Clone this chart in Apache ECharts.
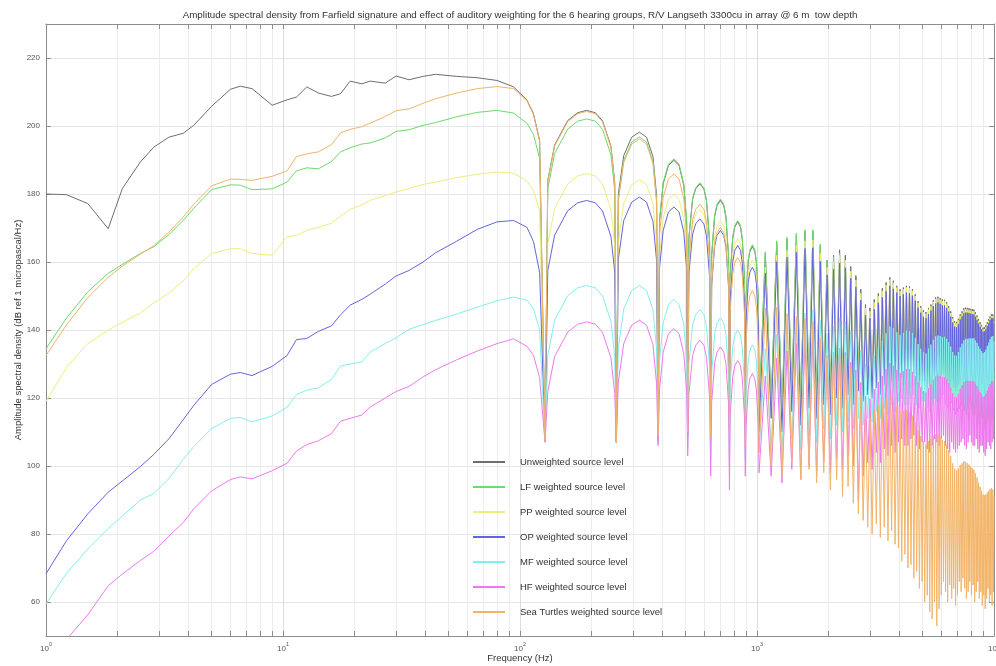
<!DOCTYPE html>
<html><head><meta charset="utf-8">
<script src="https://cdn.jsdelivr.net/npm/echarts@6/dist/echarts.min.js"></script>
<style>html,body{margin:0;padding:0;background:#fff}#c{width:996px;height:666px}</style>
</head><body><div id="c"></div>
<script>
const titleText = 'Amplitude spectral density from Farfield signature and effect of auditory weighting for the 6 hearing groups, R/V Langseth 3300cu in array @ 6 m  tow depth';
const seriesNames = ['Unweighted source level','LF weighted source level','PP weighted source level','OP weighted source level','MF weighted source level','HF weighted source level','Sea Turtles weighted source level'];
const seriesColors = ['#6e6e6e','#6fd86f','#eeee7c','#6464e0','#84eeee','#ee78ee','#f2b468'];
const xTickValues = [1,2,3,4,5,6,7,8,9,10,20,30,40,50,60,70,80,90,100,200,300,400,500,600,700,800,900,1000,2000,3000,4000,5000,6000,7000,8000,9000,10000];
const xLabelValues = [1,10,100,1000,10000];
const yTickValues = [60,80,100,120,140,160,180,200,220];

// frequencies (Hz) up to 3825 Hz
const freqMain = [1,1.22,1.5,1.83,2.1,2.5,2.85,3.3,3.8,4.2,
5,6,6.6,7.4,9,10.4,11.4,12.6,14.1,16,
17.5,19.2,21.5,23.3,27,30,34,39,44,54,
66,80,94,107,114,121,127.5,
131,140,159,175,191,208,223,242,251,255,
260,274,296,319,342,364,377,382.5,
388,402,423,446,469,491,505,510,
516,535,551,574,597,612,631,637.5,
644,663,678,701,724,740,759,765,
771,790,806,829,852,867,886,892.5,
899,918,933,956,979,995,1014,1020,
1084,1147.5,1211,1275,1339,1402.5,1466,1530,1594,1657.5,1721,1785,1849,1912.5,1976,2040,2104,2167.5,2231,2295,2359,2422.5,
2486,2550,2614,2677.5,2741,2805,2869,2932.5,2996,3060,3124,3187.5,3251,3315,3379,3442.5,3506,3570,3634,3697.5,3761,3825];
// high-frequency lobe tops and ghost notches above 3825 Hz
const freqHfPeaks = [3888.75,4016.25,4143.75,4271.25,4398.75,4526.25,4653.75,4781.25,4908.75,5036.25,5163.75,5291.25,5418.75,5546.25,5673.75,5801.25,5928.75,6056.25,6183.75,6311.25,6438.75,6566.25,6693.75,6821.25,
6948.75,7076.25,7203.75,7331.25,7458.75,7586.25,7713.75,7841.25,7968.75,8096.25,8223.75,8351.25,8478.75,8606.25,8733.75,8861.25,8988.75,9116.25,9243.75,9371.25,9498.75,9626.25,9753.75,9881.25];
const freqHfNotches = [3952.5,4080,4207.5,4335,4462.5,4590,4717.5,4845,4972.5,5100,5227.5,5355,5482.5,5610,5737.5,5865,5992.5,6120,6247.5,6375,6502.5,6630,6757.5,6885,
7012.5,7140,7267.5,7395,7522.5,7650,7777.5,7905,8032.5,8160,8287.5,8415,8542.5,8670,8797.5,8925,9052.5,9180,9307.5,9435,9562.5,9690,9817.5,9945];
const freqEnd = 10000;

const unweighted = [180,179.8,177.2,169.8,181.6,189.4,193.8,196.7,197.9,200.2,
205.8,210.8,211.7,211,206.1,207.7,208.5,211.5,209.7,208.7,
209.5,213.2,212.4,213.2,212.6,214.7,213.6,214.6,215.2,214.6,
214.2,213.4,211.5,207.6,203.6,195.8,108,
184,194.4,201.6,203.9,204.6,203.9,201.5,194,183.5,107,
180,191.3,196.7,198.2,196.7,191,179.5,110,
172,183,188.4,189.9,188.4,182.5,171.5,112,
167,178.5,181.5,183,181.5,178,166,114,
162,173.5,176.6,178.1,176.6,173,161,116,
156,167,170.3,171.8,170.3,166.5,155,117,
149,160,163.1,164.6,163.1,159.5,148,115,
162.5,118,165.7,115,166.8,121,168,117,169,122,169,119,164.8,123,160.5,120,162,125,163.6,122,162,126,
158.7,123,156,127,152,124,147.5,126,146.5,125,149,128,150.8,126,152.3,129,154,127,155.5,130,154.5,128];
const unweightedHfPeaks = [153,152,152.5,153,152.8,152,150.5,148.5,147,145.8,145.3,146.5,147.5,148.8,149.6,149.8,149.4,149,148.9,148.2,147,145.5,143.8,142.6,
142.4,143.3,144.6,145.5,146.4,146.6,146.5,146.4,146.2,146.1,146,145.2,144.3,143.2,142.3,141.5,140.7,140.8,141.4,142.3,143.2,144,144.6,144.6];
const unweightedHfNotches = [129,130,128,128,130,131,128,127,129,129,127,126,128,130,129,128,130,131,128,127,126,129,127,126,
127,128,129,130,128,127,129,131,129,128,128,130,127,126,128,128,126,125,127,129,128,127,129,130];

const lfWeighted = [134.5,143.5,151.2,156.7,159.3,162.5,164.5,168.1,172.3,175.8,
181.3,182.7,182.6,181.3,181.5,183.5,186.8,187.7,187.4,189.5,
192.4,193.6,194.7,195,196.5,198.4,198.9,200.2,201,202.7,
204,204.6,203.8,200.8,197.5,190.5,108,
181.5,191.9,199.1,201.4,202.1,201.4,199,191.5,181,107,
178.6,189.9,195.3,196.8,195.3,189.6,178.1,110,
172.4,183.4,188.8,190.3,188.8,182.9,171.9,112,
167.3,178.8,181.8,183.3,181.8,178.3,166.3,114,
162.4,173.9,177,178.5,177,173.4,161.4,116,
156.4,167.4,170.7,172.2,170.7,166.9,155.4,117,
149.5,160.5,163.6,165.1,163.6,160,148.5,115,
163,118,166.2,115,167.3,121,168.5,117,169.5,122,169.5,119,165.3,123,160.5,119.5,161.5,124,162.6,120.5,160.5,124,
156.7,120.5,153.5,124,149,120.5,144,122,142.5,120.8,144.7,123.4,146.2,121,147.3,123.7,148.7,121.4,149.9,124,148.5,121.5];
const lfHfPeaks = [146.8,145.6,145.9,146.2,145.8,144.8,143.1,140.9,139.2,137.8,137.1,138.1,138.9,140,140.6,140.6,140,139.4,139.1,138.2,136.8,135.1,133.2,131.8,
131.4,132.1,133.2,133.9,134.6,134.6,134.3,134,133.6,133.3,133,132,130.9,129.6,128.5,127.5,126.5,126.4,126.8,127.5,128.2,128.8,129.2,129];
const lfHfNotches = [122.8,123.6,121.4,121.2,123,123.8,120.6,119.4,121.2,121,118.8,117.6,119.4,121.2,120,118.8,120.6,121.4,118.2,117,115.8,118.6,116.4,115.2,
116,116.8,117.6,118.4,116.2,115,116.8,118.6,116.4,115.2,115,116.8,113.6,112.4,114.2,114,111.8,110.6,112.4,114.2,113,111.8,113.6,114.4];

const ppWeighted = [119,129,136,140,142.3,145,148,150.8,154.5,158,
162.5,163.9,163.9,162.5,162,167.5,167.8,169.3,170.2,171.4,
173.5,175.5,176.8,178.1,179.5,180.6,181.6,182.8,183.5,184.8,
185.8,186.5,186.1,183.8,181,175,108,
165.4,175.8,183,185.3,186,185.3,182.9,175.4,164.9,107,
166,177.3,182.7,184.2,182.7,177,165.5,109,
162,173,178.4,179.9,178.4,172.5,161.5,110,
159.5,171,174,175.5,174,170.5,158.5,112,
156,167.5,170.6,172.1,170.6,167,155,113,
151,162,165.3,166.8,165.3,161.5,150,113,
145,156,159.1,160.6,159.1,155.5,144,112,
158.5,114.5,162,112,163.4,118,164.9,114.5,166.2,119.5,166.5,117,162.5,121,158.4,118,160.1,123,161.9,120.5,160.5,124.5,
157.3,121.7,154.7,125.8,150.8,122.9,146.4,125,145.5,124.1,148.1,127.2,149.9,125.2,151.5,128.3,153.2,126.3,154.8,129.3,153.9,127.4];
const ppHfPeaks = [152.5,151.5,152,152.5,152.3,151.5,150,148,146.5,145.3,144.8,146,147,148.3,149.1,149.3,148.9,148.5,148.4,147.7,146.5,145,143.3,142.1,
141.9,142.8,144.1,145,145.9,146.1,146,145.9,145.7,145.6,145.5,144.7,143.8,142.7,141.8,141,140.2,140.3,140.9,141.8,142.7,143.5,144.1,144.1];
const ppHfNotches = [128.5,129.5,127.5,127.5,129.5,130.5,127.5,126.5,128.5,128.5,126.5,125.5,127.5,129.5,128.5,127.5,129.5,130.5,127.5,126.5,125.5,128.5,126.5,125.5,
126.5,127.5,128.5,129.5,127.5,126.5,128.5,130.5,128.5,127.5,127.5,129.5,126.5,125.5,127.5,127.5,125.5,124.5,126.5,128.5,127.5,126.5,128.5,129.5];

const opWeighted = [68.3,78,85.9,92.3,95.6,99.8,103.4,108,113.7,117.8,
124,127,127.5,126.6,129.3,132.5,137.2,137.5,139.6,141.2,
144.5,147.3,149,150.5,153.5,155.9,157.5,160,162.7,166.1,
169.6,171.8,172.2,170.2,166,157,107.5,
157.5,167.9,175.1,177.4,178.1,177.4,175,167.5,157,107,
160.9,172.2,177.6,179.1,177.6,171.9,160.4,108,
158.3,169.3,174.7,176.2,174.7,168.8,157.8,109,
156.7,168.2,171.2,172.7,171.2,167.7,155.7,110,
153.2,164.7,167.8,169.3,167.8,164.2,152.2,111,
149.1,160.1,163.4,164.9,163.4,159.6,148.1,111,
142.9,153.9,157,158.5,157,153.4,141.9,110,
156.7,114,160.1,110,161.4,116,162.8,112,164,117,164.2,114,160.2,118,156.2,115,157.9,120,159.7,117,158.3,121,
155.2,118,152.7,122,148.8,119,144.4,121,143.5,120,146.1,123,148,121,149.6,124,151.4,122,153,125,152.1,123];
const opHfPeaks = [151,150,150.5,151,150.8,150.1,148.6,146.6,145.1,143.9,143.5,144.7,145.7,147,147.8,148.1,147.7,147.3,147.2,146.5,145.4,143.9,142.2,141,
140.8,141.8,143.1,144,144.9,145.1,145.1,145,144.8,144.7,144.6,143.9,143,141.9,141,140.2,139.5,139.6,140.2,141.1,142,142.9,143.5,143.5];
const opHfNotches = [125,126,124,124,126,127,124,123,125,125,123,122,124,126,125,124,126,127,124,123,122,125,123,122,
123,124,125,126,124,123,125,127,125,124,124,126,123,122,124,124,122,121,123,125,124,123,125,126];

const mfWeighted = [59.5,68.4,75.6,81.6,85.3,90,91.9,96.3,102,105.7,
111,114,114.3,113,114.7,117.3,121,122.3,123,125.5,
129.4,130,130.6,133.5,136,137.7,140.2,141.6,142.8,144.7,
146.7,148.6,149.7,148.8,146.3,140,107,
132.5,142.9,150.1,152.4,153.1,152.4,150,142.5,132,107,
134.9,146.2,151.6,153.1,151.6,145.9,134.4,107,
131.1,142.1,147.5,149,147.5,141.6,130.6,105,
130,141.5,144.5,146,144.5,141,129,102,
127.5,139,142.1,143.6,142.1,138.5,126.5,100,
124.2,135.2,138.5,140,138.5,134.7,123.2,102,
120,131,134.1,135.6,134.1,130.5,119,104,
134.5,106,138.7,104,140.8,108,143,105,145,109,146,107,142.8,111,139,108,141,112,143.6,110,142.5,113,
139.7,111,137.5,114,134,112,130,114,129.5,113,132.5,116,134.8,114,136.8,117,139,115,141,118,140.5,116];
const mfHfPeaks = [139.3,138.5,139.1,139.8,139.7,139.1,137.7,135.9,134.5,133.5,133.1,134.5,135.7,137.1,138.1,138.4,138.2,137.9,138,137.4,136.4,135.1,133.5,132.5,
132.4,133.5,134.9,136,137,137.4,137.4,137.5,137.5,137.5,137.6,136.9,136.2,135.2,134.5,133.8,133.2,133.5,134.2,135.3,136.3,137.3,138,138.2];
const mfHfNotches = [119,120,118,118,120,121,118,117,119,119,117,116,118,120,119,118,120,121,118,117,116,119,117,116,
117,118,119,120,118,117,119,121,119,118,118,120,117,116,118,118,116,115,117,119,118,117,119,120];

const hfWeighted = [44,49,56.2,64.8,68.2,72.2,74.9,79.4,83.4,87.4,
92.7,96,96.8,96.2,98.6,100.8,104.4,106.3,107.4,109.5,
113.2,114,115,117.3,120,121.9,123.4,126.2,128.3,131.2,
133.8,136,137.4,135.2,132.5,126,107,
121.8,132.2,139.4,141.7,142.4,141.7,139.3,131.8,121.3,107,
124.7,136,141.4,142.9,141.4,135.7,124.2,106,
122.5,133.5,138.9,140.4,138.9,133,122,103,
121,132.5,135.5,137,135.5,132,120,97,
118.9,130.4,133.5,135,133.5,129.9,117.9,93,
115.2,126.2,129.5,131,129.5,125.7,114.2,97,
111.6,122.6,125.7,127.2,125.7,122.1,110.6,98,
126.5,97,131.7,95,133.8,99,136,96,137.5,100,138,97,134.3,101,130.5,98,132.5,102,134.6,99,133.4,103,
130.5,100,128.2,90,124.6,97,120.5,101,119.8,99,122.6,104,124.7,101,126.5,105,128.5,103,130.3,106,129.5,104];
const hfHfPeaks = [128.2,127.3,127.9,128.5,128.4,127.7,126.4,124.5,123.1,122,121.6,122.9,124,125.4,126.3,126.6,126.4,126.1,126.1,125.5,124.4,123,121.4,120.3,
120.2,121.2,122.7,123.7,124.7,125,125,125,124.9,124.9,124.9,124.2,123.5,122.5,121.7,121,120.3,120.5,121.2,122.2,123.2,124.1,124.9,125];
const hfHfNotches = [107,108,106,106,108,109,106,105,107,107,105,104,106,108,107,106,108,109,106,105,104,107,105,104,
105,106,107,108,106,105,107,109,107,106,106,108,105,104,106,106,104,103,105,107,106,105,107,108];

const turtleWeighted = [132.5,141.5,149.5,155.5,158.8,162.3,164.8,168.8,173.3,177,
182.4,184.4,184.3,184,185.2,186.8,191,191.8,192.4,194.5,
198,199,199.8,200.8,202.8,204.5,205,206.7,208,209.7,
211,211.6,211,207.4,203.3,195.5,107.5,
183.7,194.1,201.3,203.6,204.3,203.6,201.2,193.7,183.2,107,
178,189.3,194.7,196.2,194.7,189,177.5,109,
168,179,184.4,185.9,184.4,178.5,167.5,110,
161,172.5,175.5,177,175.5,172,160,109,
154,165.5,168.6,170.1,168.6,165,153,108,
145.5,156.5,159.8,161.3,159.8,156,144.5,106,
136,147,150.1,151.6,150.1,146.5,135,104,
146.5,100,146.7,97,144.8,101,144,96,143.5,99,142.5,95,137.5,98,132.5,93,133.5,96,134.6,91,132.5,94,
128.7,89,125.5,86,121,84,116,82,114.5,80,116.5,83,117.8,79,118.8,82,120,78,121,81,119.5,77];
const turtleHfPeaks = [117.5,116.2,116.3,116.5,115.9,114.8,113,110.6,108.8,107.2,106.4,107.3,107.9,108.9,109.3,109.2,108.5,107.7,107.3,106.2,104.7,102.9,100.8,99.3,
98.7,99.3,100.3,100.8,101.4,101.2,100.8,100.4,99.8,99.4,98.9,97.8,96.6,95.1,93.9,92.7,91.6,91.4,91.6,92.2,92.7,93.2,93.5,93.1];
const turtleHfNotches = [76,72,74,70,71,67,69,64,66,60,62,57,55,60,53,58,62,66,63,60,65,61,64,59,
62,66,63,67,64,61,63,66,62,65,60,63,66,61,63,59,62,58,61,64,60,62,59,63];

const endValues = [143,127.2,142.5,142,136.7,123.5,91.1];

const mainValues = [unweighted, lfWeighted, ppWeighted, opWeighted, mfWeighted, hfWeighted, turtleWeighted];
const hfPeakValues = [unweightedHfPeaks, lfHfPeaks, ppHfPeaks, opHfPeaks, mfHfPeaks, hfHfPeaks, turtleHfPeaks];
const hfNotchValues = [unweightedHfNotches, lfHfNotches, ppHfNotches, opHfNotches, mfHfNotches, hfHfNotches, turtleHfNotches];

function buildData(i) {
  const main = mainValues[i], pk = hfPeakValues[i], nt = hfNotchValues[i];
  if (main.length !== freqMain.length || pk.length !== freqHfPeaks.length || nt.length !== freqHfNotches.length) {
    console.error('length mismatch', seriesNames[i], main.length, pk.length, nt.length);
  }
  const d = freqMain.map((f, k) => [f, main[k]]);
  for (let k = 0; k < freqHfPeaks.length; k++) {
    d.push([freqHfPeaks[k], pk[k]]);
    d.push([freqHfNotches[k], nt[k]]);
  }
  d.push([freqEnd, endValues[i]]);
  return d;
}

const FONT = 'Liberation Sans, Arial, Helvetica, sans-serif';
const chart = echarts.init(document.getElementById('c'), null, {renderer:'canvas'});

const axisGray = '#8c8c8c';
const xSplitColors = ['#dcdcdc','#ededed','#ededed','#ededed','#ededed','#ededed','#ededed','#ededed','#ededed'];

const option = {
  animation: false,
  backgroundColor: '#ffffff',
  textStyle: {fontFamily: FONT},
  title: {
    text: titleText, left: 515, top: 5, textAlign: 'center',
    textStyle: {fontSize: 9.8, fontWeight: 'normal', color: '#333', fontFamily: FONT}
  },
  grid: {left: 46, right: 2, top: 24, bottom: 30, containLabel: false, outerBoundsMode: 'none'},
  legend: {
    orient: 'vertical', left: 473, top: 457, padding: 0,
    icon: 'rect', itemWidth: 32, itemHeight: 2, itemGap: 15,
    textStyle: {fontSize: 9.5, color: '#333', fontFamily: FONT, padding: [0,0,0,10]},
    data: seriesNames
  },
  xAxis: [{
    type: 'log', logBase: 10, min: 1, max: 10000, position: 'bottom',
    name: 'Frequency (Hz)', nameLocation: 'middle', nameGap: 17, nameMoveOverlap: false,
    nameTextStyle: {fontSize: 9.5, color: '#333', fontFamily: FONT},
    axisLine: {show: true, lineStyle: {color: axisGray, width: 1}},
    axisTick: {show: true, inside: true, length: 5, customValues: xTickValues, lineStyle: {color: axisGray}},
    axisLabel: {
      customValues: xLabelValues, margin: 5, color: '#555',
      formatter: function (v) { return '{b|10}{e|' + Math.round(Math.log10(v)) + '}'; },
      rich: {b: {fontSize: 8, color: '#555', lineHeight: 12, verticalAlign: 'bottom', fontFamily: FONT},
             e: {fontSize: 5.5, color: '#555', lineHeight: 12, verticalAlign: 'top', fontFamily: FONT}}
    },
    splitLine: {show: true, lineStyle: {color: xSplitColors, width: 1}}
  }, {
    type: 'log', logBase: 10, min: 1, max: 10000, position: 'top',
    axisLine: {show: true, lineStyle: {color: axisGray, width: 1}},
    axisTick: {show: true, inside: true, length: 5, customValues: xTickValues, lineStyle: {color: axisGray}},
    axisLabel: {show: false},
    splitLine: {show: false}
  }],
  yAxis: [{
    type: 'value', min: 50, max: 230, position: 'left',
    name: 'Amplitude spectral density (dB ref 1 micropascal/Hz)', nameLocation: 'middle', nameGap: 23, nameMoveOverlap: false,
    nameTextStyle: {fontSize: 9.5, color: '#333', fontFamily: FONT},
    axisLine: {show: true, lineStyle: {color: axisGray, width: 1}},
    axisTick: {show: true, inside: true, length: 5, customValues: yTickValues, lineStyle: {color: axisGray}},
    axisLabel: {customValues: yTickValues, fontSize: 8, color: '#555', margin: 6, fontFamily: FONT},
    splitLine: {show: true, lineStyle: {color: '#e6e6e6', width: 1}}
  }, {
    type: 'value', min: 50, max: 230, position: 'right',
    axisLine: {show: true, lineStyle: {color: axisGray, width: 1}},
    axisTick: {show: true, inside: true, length: 5, customValues: yTickValues, lineStyle: {color: axisGray}},
    axisLabel: {show: false},
    splitLine: {show: false}
  }],
  series: seriesNames.map((name, i) => ({
    type: 'line', name: name, xAxisIndex: 0, yAxisIndex: 0,
    data: buildData(i),
    symbol: 'none', showSymbol: false, clip: true, silent: true,
    lineStyle: {color: seriesColors[i], width: 1},
    itemStyle: {color: seriesColors[i]}
  }))
};
chart.setOption(option);
</script>
</body></html>
